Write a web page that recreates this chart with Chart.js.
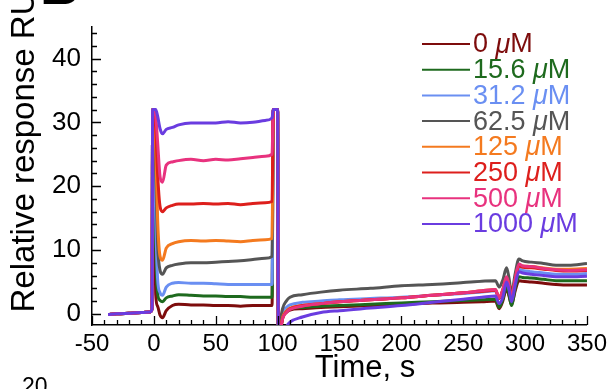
<!DOCTYPE html>
<html><head><meta charset="utf-8">
<script src="https://cdn.jsdelivr.net/npm/chart.js@4.4.1/dist/chart.umd.min.js"></script>
<style>html,body{margin:0;padding:0;background:#fff;overflow:hidden}#wrap{position:relative;width:612px;height:389px}</style>
</head><body><div id="wrap"><canvas id="c" width="612" height="389"></canvas></div>
<script>
// time axis (s)
const time = [-37,-30,-20,-10,-3,-1.5,-1, 0,1.5,3,5,7, 10,15,20,30,40,50,60,70,80,90, 95.5,96.5,100,100.6, 102,104,107,110,120,135,150,175,200,225,250,265, 276,279,282,285,287,289,292,295,298, 305,315,325,335,350];
const concLabels = ['0','15.6','31.2','62.5','125','250','500','1000'];
const base = [-0.1,0.0,0.1,0.2,0.3,0.8,32, 32];
const r0    = base.concat([3.0,1.2,-0.2,-0.6, 0.5,1.3,1.5,1.4,1.4,1.3,1.3,1.2,1.3,1.3, 1.3,32,32,-4, -3,-0.6,0.2,0.6,0.8,1.0,1.1,1.3,1.5,1.7,1.8,1.9, 2.0,0.8,2.0,4.0,2.8,1.4,3.6,5.2,5.1, 5.0,4.8,4.6,4.5,4.5]);
const r15_6 = base.concat([10,3.2,2.1,1.9, 2.5,2.8,3.0,2.9,2.8,2.8,2.7,2.7,2.6,2.6, 2.6,32,32,-4, -3,-0.5,0.3,0.8,1.0,1.2,1.3,1.5,1.7,1.9,2.1,2.2, 2.3,1.0,2.3,4.3,3.0,1.3,4.0,5.8,5.7, 5.6,5.4,5.2,5.2,5.2]);
const r31_2 = base.concat([15,5.5,3.3,2.9, 4.2,4.8,4.9,4.8,4.8,4.7,4.6,4.6,4.6,4.6, 4.6,32,32,-4, -2.5,0.2,1.0,1.4,1.8,2.0,2.2,2.4,2.6,2.9,3.2,3.4, 3.6,2.4,3.6,5.4,4.0,2.3,5.0,7.0,6.8, 6.6,6.4,6.2,6.2,6.3]);
const r62_5 = base.concat([22,11,6.8,6.2, 7.2,7.6,7.8,8.0,8.0,8.1,8.2,8.3,8.5,8.7, 9.0,32,32,-4, -1.5,0.8,2.0,2.6,3.0,3.4,3.7,4.0,4.4,4.6,4.9,5.1, 5.2,4.2,5.3,7.2,5.6,3.2,6.3,8.6,8.3, 8.1,7.9,7.6,7.6,7.9]);
const r125  = base.concat([26,15,9.0,8.4, 10.3,11.0,11.3,11.5,11.4,11.5,11.4,11.3,11.5,11.6, 11.8,32,32,-4, -3,-0.6,0.4,0.9,1.3,1.6,1.9,2.2,2.5,2.9,3.3,3.6, 3.8,2.5,3.8,5.7,4.4,2.5,5.4,7.6,7.5, 7.4,7.2,7.0,7.0,7.1]);
const r250  = base.concat([29,22,16.8,16.0, 16.6,17.0,17.2,17.2,17.3,17.2,17.3,17.1,17.3,17.4, 17.6,32,32,-4, -3,-0.8,0.3,0.8,1.3,1.6,1.9,2.2,2.5,2.9,3.3,3.5, 3.7,2.4,3.7,5.6,4.3,2.4,5.3,7.5,7.3, 7.2,7.0,6.8,6.7,6.8]);
const r500  = base.concat([31,27,21.5,20.6, 23.3,23.8,24.0,24.2,24.0,24.2,24.1,24.3,24.5,24.7, 25.0,32,32,-4, -3,-0.8,0.2,0.7,1.2,1.6,1.9,2.2,2.5,2.9,3.3,3.6, 3.8,2.5,3.8,5.8,4.4,2.5,5.5,7.8,7.5, 7.4,7.1,6.9,6.8,6.9]);
const r1000 = base.concat([32,31,29,28.2, 28.9,29.2,29.6,29.9,29.9,29.9,30.1,29.9,30.0,30.3, 30.7,32,32,-4, -4,-3,-2,-1.3,-0.5,0.2,0.5,0.9,1.3,1.8,2.3,2.6, 2.8,1.6,2.6,5.0,3.8,1.9,4.5,6.6,6.4, 6.2,6.0,5.8,5.8,5.9]);
const seriesValues = [r0,r15_6,r31_2,r62_5,r125,r250,r500,r1000];
const xTickLabels = [-50,0,50,100,150,200,250,300,350];
const yTickLabels = [0,10,20,30,40];
const colors = ['#7d0c0c','#1e6a1e','#6a8ff2','#555555','#f47a1f','#dd1f1c','#e8327e','#6a3ce0'];

const FONT = '"Liberation Sans", Arial, Helvetica, sans-serif';

const datasets = seriesValues.map((vals,i)=>({
  label: concLabels[i] + ' μM',
  data: time.map((t,k)=>({x:t,y:vals[k]})),
  borderColor: colors[i], backgroundColor: colors[i],
  borderWidth: 3, pointRadius: 0, fill:false,
  cubicInterpolationMode:'monotone',
  order: seriesValues.length-1-i
}));

const deco = {
  id:'deco',
  afterDraw(chart){
    const {ctx, chartArea:ca, scales:{x,y}} = chart;
    ctx.save();
    ctx.strokeStyle='#000'; ctx.lineWidth=1.3;
    ctx.beginPath();
    for(let v=-50; v<=350; v+=10){
      const px = Math.round(x.getPixelForValue(v))+0.5;
      const len = (v%50===0)?9:5;
      ctx.moveTo(px, ca.bottom); ctx.lineTo(px, ca.bottom-len);
    }
    for(let v=0; v<=44; v+=2){
      const py = Math.round(y.getPixelForValue(v))+0.5;
      const len = (v%10===0)?9:5;
      ctx.moveTo(ca.left, py); ctx.lineTo(ca.left+len, py);
    }
    ctx.stroke();
    // legend
    const lx0=422, lx1=470, ly0=44, dy=25.7, fs=27;
    chart.data.datasets.forEach((ds,i)=>{
      const yy = ly0 + i*dy;
      ctx.strokeStyle = ds.borderColor; ctx.lineWidth=2;
      ctx.beginPath(); ctx.moveTo(lx0,yy); ctx.lineTo(lx1,yy); ctx.stroke();
      ctx.fillStyle = ds.borderColor; ctx.textBaseline='middle'; ctx.textAlign='left';
      const num = concLabels[i] + ' ';
      ctx.font = fs+'px '+FONT;
      let tx = 473;
      ctx.fillText(num, tx, yy+1); tx += ctx.measureText(num).width;
      ctx.font = 'italic '+fs+'px '+FONT;
      ctx.fillText('μ', tx, yy+1); tx += ctx.measureText('μ').width;
      ctx.font = fs+'px '+FONT;
      ctx.fillText('M', tx, yy+1);
    });
    // axis titles
    ctx.fillStyle='#000';
    ctx.font = '31px '+FONT; ctx.textAlign='center'; ctx.textBaseline='alphabetic';
    ctx.fillText('Time, s', 365, 377);
    ctx.save();
    ctx.translate(34, 152); ctx.rotate(-Math.PI/2);
    ctx.font = '33px '+FONT; ctx.textAlign='center'; ctx.textBaseline='alphabetic';
    ctx.fillText('Relative response RU', 0, 0);
    ctx.restore();
    // neighbouring panel fragments
    ctx.font = 'bold 55px '+FONT; ctx.textAlign='left';
    ctx.fillText('B', 40, 4);
    ctx.font = '23px '+FONT;
    ctx.fillText('20', 22, 394);
    ctx.restore();
  }
};

new Chart(document.getElementById('c'), {
  type:'line',
  data:{datasets},
  options:{
    responsive:false, animation:false, devicePixelRatio:1,
    layout:{padding:{left:0,right:24,top:0,bottom:0}},
    plugins:{legend:{display:false}, tooltip:{enabled:false}},
    scales:{
      x:{type:'linear', min:-50, max:350,
         afterBuildTicks:s=>{s.ticks = xTickLabels.map(v=>({value:v}));},
         afterFit:s=>{s.height=64;},
         grid:{display:true, drawOnChartArea:false, drawTicks:false},
         border:{display:true, color:'#000', width:1.5},
         ticks:{color:'#000', font:{family:FONT,size:24}, padding:5, maxRotation:0, autoSkip:false}},
      y:{type:'linear', min:-1.75, max:45,
         afterBuildTicks:s=>{s.ticks = yTickLabels.map(v=>({value:v}));},
         afterFit:s=>{s.width=92;},
         grid:{display:true, drawOnChartArea:false, drawTicks:false},
         border:{display:true, color:'#000', width:1.5},
         ticks:{color:'#000', font:{family:FONT,size:26}, padding:11}}
    }
  },
  plugins:[deco]
});
</script></body></html>
